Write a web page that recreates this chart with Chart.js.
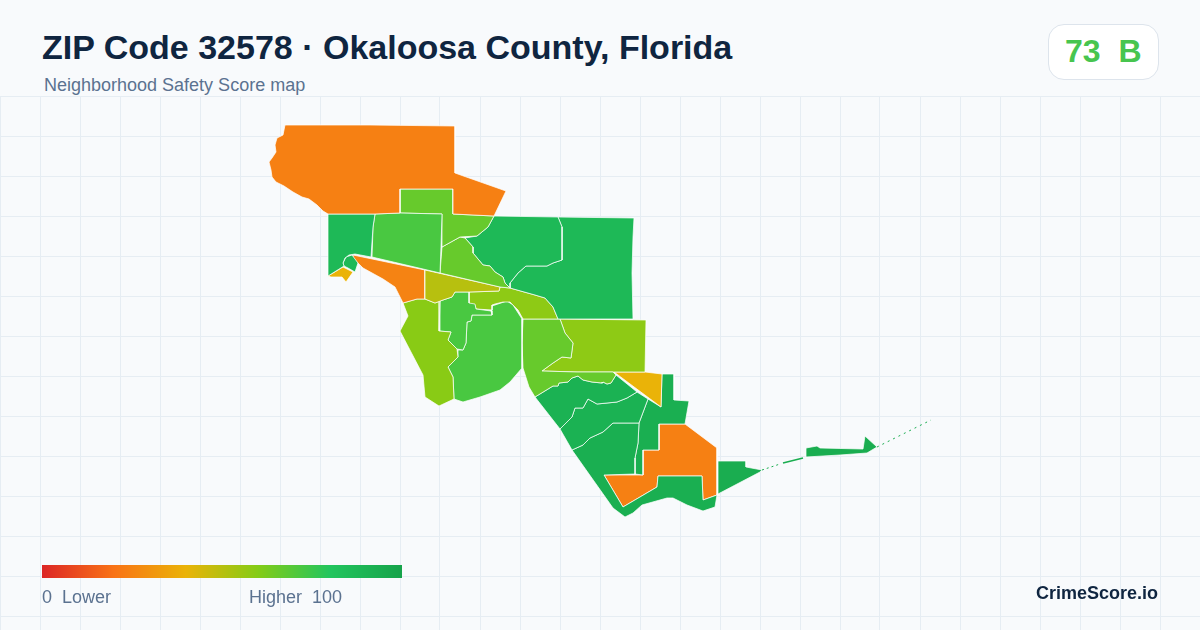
<!DOCTYPE html>
<html>
<head>
<meta charset="utf-8">
<title>ZIP Code 32578 Safety Score</title>
<script src="https://cdn.jsdelivr.net/npm/chart.js@4"></script>
<style>
    html, body { margin: 0; padding: 0; background: #f8fafc; overflow: hidden; }
    body { position: relative; width: 1200px; height: 630px; font-family: "Liberation Sans", Arial, sans-serif; }
    #map { position: absolute; left: 0; top: 96px; }
    .txt { position: absolute; white-space: pre; line-height: 1; }
    #title { left: 42px; top: 30px; font-size: 34px; font-weight: 700; color: #0f2540; }
    #subtitle { left: 44px; top: 76px; font-size: 18px; color: #5b7290; }
    #badge { position: absolute; left: 1048px; top: 24px; width: 109px; height: 54px; background: #fff; border: 1px solid #dde4ec; border-radius: 16px; }
    #score { left: 1065px; top: 35px; font-size: 32px; font-weight: 700; color: #47c54f; }
    #ramp { position: absolute; left: 42px; top: 565px; width: 360px; height: 13px; }
    #lower { left: 42px; top: 588px; font-size: 18px; color: #5b7290; }
    #higher { left: 249px; top: 588px; font-size: 18px; color: #5b7290; }
    #brand { left: 1036px; top: 584px; font-size: 18px; font-weight: 700; color: #0f2540; }
</style>
</head>
<body>
<canvas id="map" width="1200" height="534"></canvas>
<div id="title" class="txt">ZIP Code 32578 · Okaloosa County, Florida</div>
<div id="subtitle" class="txt">Neighborhood Safety Score map</div>
<div id="badge"></div>
<div id="score" class="txt">73  B</div>
<div id="ramp"></div>
<div id="lower" class="txt">0  Lower</div>
<div id="higher" class="txt">Higher  100</div>
<div id="brand" class="txt">CrimeScore.io</div>
<script>
// score scale, same stops as the legend bar
const rampStops = [0, 20, 40, 60, 80, 100];
const rampColors = ['#dc2626', '#f97316', '#eab308', '#84cc16', '#22c55e', '#16a34a'];

// tract outlines, map units
const northWest = [[285,125],[370,125],[455,126],[455,173],[506,191],[494,216],[473,215],[453,214],[453,189],[400,189],[400,213],[375,214],[328,214],[323,211],[317,205],[309,199],[302,197],[293,192],[284,186],[276,182],[272,177],[271,170],[269,162],[272,158],[276,152],[275,145],[277,138],[283,135]];
const westShore = [[328,214],[375,214],[373,227],[371,257],[355,254],[349,255],[345,258],[343,263],[344,266],[328,276]];
const westPocket = [[343,263],[346,257],[352,255],[358,263],[355,272],[348,268],[344,266]];
const westPoint = [[328,276],[343,267],[353,272],[346,282],[342,277],[331,277]];
const upperMid = [[375,214],[400,213],[442,214],[441,247],[440,273],[372,257],[373,227]];
const upperBlock = [[400,189],[453,189],[453,214],[473,215],[494,216],[488,227],[477,236],[460,237],[442,247],[442,214],[400,213]];
const centerNorth = [[442,247],[460,237],[465,238],[473,247],[473,253],[483,265],[490,266],[495,272],[503,277],[505,283],[510,288],[500,287],[440,273]];
const northEastA = [[494,216],[558,217],[562,227],[562,260],[553,263],[547,266],[526,266],[518,273],[510,283],[510,288],[505,283],[503,277],[495,272],[490,266],[483,265],[473,253],[473,247],[465,238],[477,236],[488,227]];
const northEastB = [[558,217],[634,218],[633,237],[632,273],[633,319],[558,319],[553,307],[545,298],[535,295],[510,288],[510,283],[518,273],[526,266],[547,266],[553,263],[562,260],[562,227]];
const midWedge = [[425,270],[500,287],[499,291],[469,292],[455,292],[452,297],[443,300],[435,303],[425,299]];
const orangeWedge = [[353,255],[425,270],[425,299],[417,299],[403,303],[395,287],[383,279],[363,268],[353,258]];
const southWest = [[403,303],[417,299],[425,299],[435,303],[440,301],[439,331],[451,332],[448,340],[457,349],[458,357],[448,367],[453,377],[454,399],[439,406],[425,397],[423,375],[400,331],[408,316]];
const centerStrip = [[440,301],[452,297],[455,292],[469,292],[469,303],[475,304],[476,309],[491,311],[492,315],[472,315],[471,321],[467,322],[466,343],[463,350],[457,349],[448,340],[451,332],[439,331]];
const midBelt = [[500,287],[510,288],[535,295],[545,298],[553,307],[558,319],[523,319],[518,310],[510,302],[503,302],[495,304],[492,305],[492,310],[476,309],[475,305],[469,304],[469,292],[499,291]];
const centerSouth = [[492,315],[492,306],[507,301],[513,305],[522,319],[522,368],[510,382],[500,390],[480,397],[463,402],[454,399],[453,377],[448,367],[458,357],[458,350],[463,350],[466,343],[467,322],[471,321],[472,315]];
const eastOfCenter = [[523,319],[560,319],[565,333],[573,343],[571,358],[562,357],[553,363],[542,371],[577,372],[613,372],[616,375],[611,383],[607,384],[603,382],[602,383],[592,382],[583,380],[578,376],[572,378],[568,382],[559,383],[558,386],[553,386],[535,397],[529,387],[523,368],[522,343]];
const eastSquare = [[560,319],[646,320],[645,372],[613,372],[577,372],[542,371],[553,363],[562,357],[571,358],[573,343],[565,333]];
const eastTriangle = [[614,372],[645,372],[662,374],[661,407]];
const southA = [[535,397],[553,386],[558,386],[559,383],[568,382],[572,378],[578,376],[583,380],[592,382],[602,383],[603,382],[607,384],[611,383],[616,375],[637,392],[627,398],[617,402],[597,404],[588,399],[583,408],[575,408],[572,417],[560,429]];
const southB = [[560,429],[572,417],[575,408],[583,408],[588,399],[597,404],[617,402],[627,398],[637,392],[648,399],[639,423],[630,423],[613,423],[603,432],[590,438],[583,445],[572,450]];
const southC = [[572,450],[583,445],[590,438],[603,432],[613,423],[630,423],[639,423],[638,443],[635,458],[635,474],[604,475],[623,507],[657,487],[658,476],[683,476],[702,476],[703,500],[717,495],[715,507],[703,511],[687,505],[673,498],[667,498],[642,505],[633,513],[625,517],[613,508]];
const southD = [[648,399],[661,407],[662,374],[674,374],[674,400],[689,401],[685,424],[659,424],[659,450],[643,450],[643,475],[635,474],[635,458],[638,443],[639,423]];
const coastOrange = [[659,424],[685,424],[717,448],[717,495],[703,500],[702,476],[683,476],[658,476],[657,487],[623,507],[604,475],[643,475],[643,450],[659,450]];
const beachWest = [[718,461],[746,461],[746,467],[762,470],[760,472],[718,494]];
const beachEast = [[806,448],[817,446],[820,448],[863,449],[865,436],[877,447],[867,453],[840,455],[806,457]];

const tracts = [northWest, westShore, westPocket, westPoint, upperMid, upperBlock, centerNorth, northEastA, northEastB, midWedge, orangeWedge, southWest, centerStrip, midBelt, centerSouth, eastOfCenter, eastSquare, eastTriangle, southA, southB, southC, southD, coastOrange, beachWest, beachEast];
const tractScores = [24, 87, 87, 40, 72, 66, 66, 87, 87, 50, 25, 59, 72, 58, 72, 66, 58, 40, 91, 91, 93, 93, 24, 94, 94];

// thin barrier island slivers
const sliverDotted = [[762,470],[780,464]];
const sliverSolid = [[783,463],[803,458]];
const sliverEast = [[877,447],[905,433],[931,420]];

const gridXTicks = [];
for (let v = 0; v <= 1200; v += 40) gridXTicks.push(v);
const gridYTicks = [];
for (let v = 96; v <= 630; v += 40) gridYTicks.push(v);

function hexToRgb(hex) {
    return [1, 3, 5].map(i => parseInt(hex.slice(i, i + 2), 16));
}

function scoreColor(score) {
    let i = 0;
    while (i < rampStops.length - 2 && score > rampStops[i + 1]) i++;
    const t = (score - rampStops[i]) / (rampStops[i + 1] - rampStops[i]);
    const a = hexToRgb(rampColors[i]), b = hexToRgb(rampColors[i + 1]);
    return `rgb(${a.map((c, k) => Math.round(c + (b[k] - c) * t)).join(',')})`;
}

document.getElementById('ramp').style.background =
    `linear-gradient(90deg, ${rampColors.map((c, i) => `${c} ${rampStops[i]}%`).join(', ')})`;

const toPoints = ring => ring.map(p => ({ x: p[0], y: p[1] }));

const datasets = tracts.map((ring, i) => ({
    data: toPoints(ring.concat([ring[0]])),
    showLine: true, fill: 'shape', tension: 0,
    backgroundColor: scoreColor(tractScores[i]),
    borderColor: 'rgba(255,255,255,0.9)', borderWidth: 0.8, borderJoinStyle: 'round',
    pointRadius: 0, pointHoverRadius: 0
}));

const sliver = (ring, width, dash) => ({
    data: toPoints(ring), showLine: true, fill: false,
    borderColor: scoreColor(94), borderWidth: width, borderDash: dash, pointRadius: 0
});
datasets.push(sliver(sliverDotted, 1, [2, 3]));
datasets.push(sliver(sliverSolid, 1.5, []));
datasets.push(sliver(sliverEast, 1, [2, 4]));

new Chart(document.getElementById('map'), {
    type: 'scatter',
    data: { datasets },
    options: {
        responsive: false, animation: false,
        layout: { padding: 0 },
        plugins: { legend: { display: false }, tooltip: { enabled: false } },
        scales: {
            x: {
                type: 'linear', min: 0, max: 1200,
                afterBuildTicks: axis => { axis.ticks = gridXTicks.map(value => ({ value })); },
                grid: { color: '#e6edf3', lineWidth: 1, drawTicks: false },
                ticks: { display: false }, border: { display: false }
            },
            y: {
                type: 'linear', min: 96, max: 630, reverse: true,
                afterBuildTicks: axis => { axis.ticks = gridYTicks.map(value => ({ value })); },
                grid: { color: '#e6edf3', lineWidth: 1, drawTicks: false },
                ticks: { display: false }, border: { display: false }
            }
        }
    }
});
</script>
</body>
</html>
